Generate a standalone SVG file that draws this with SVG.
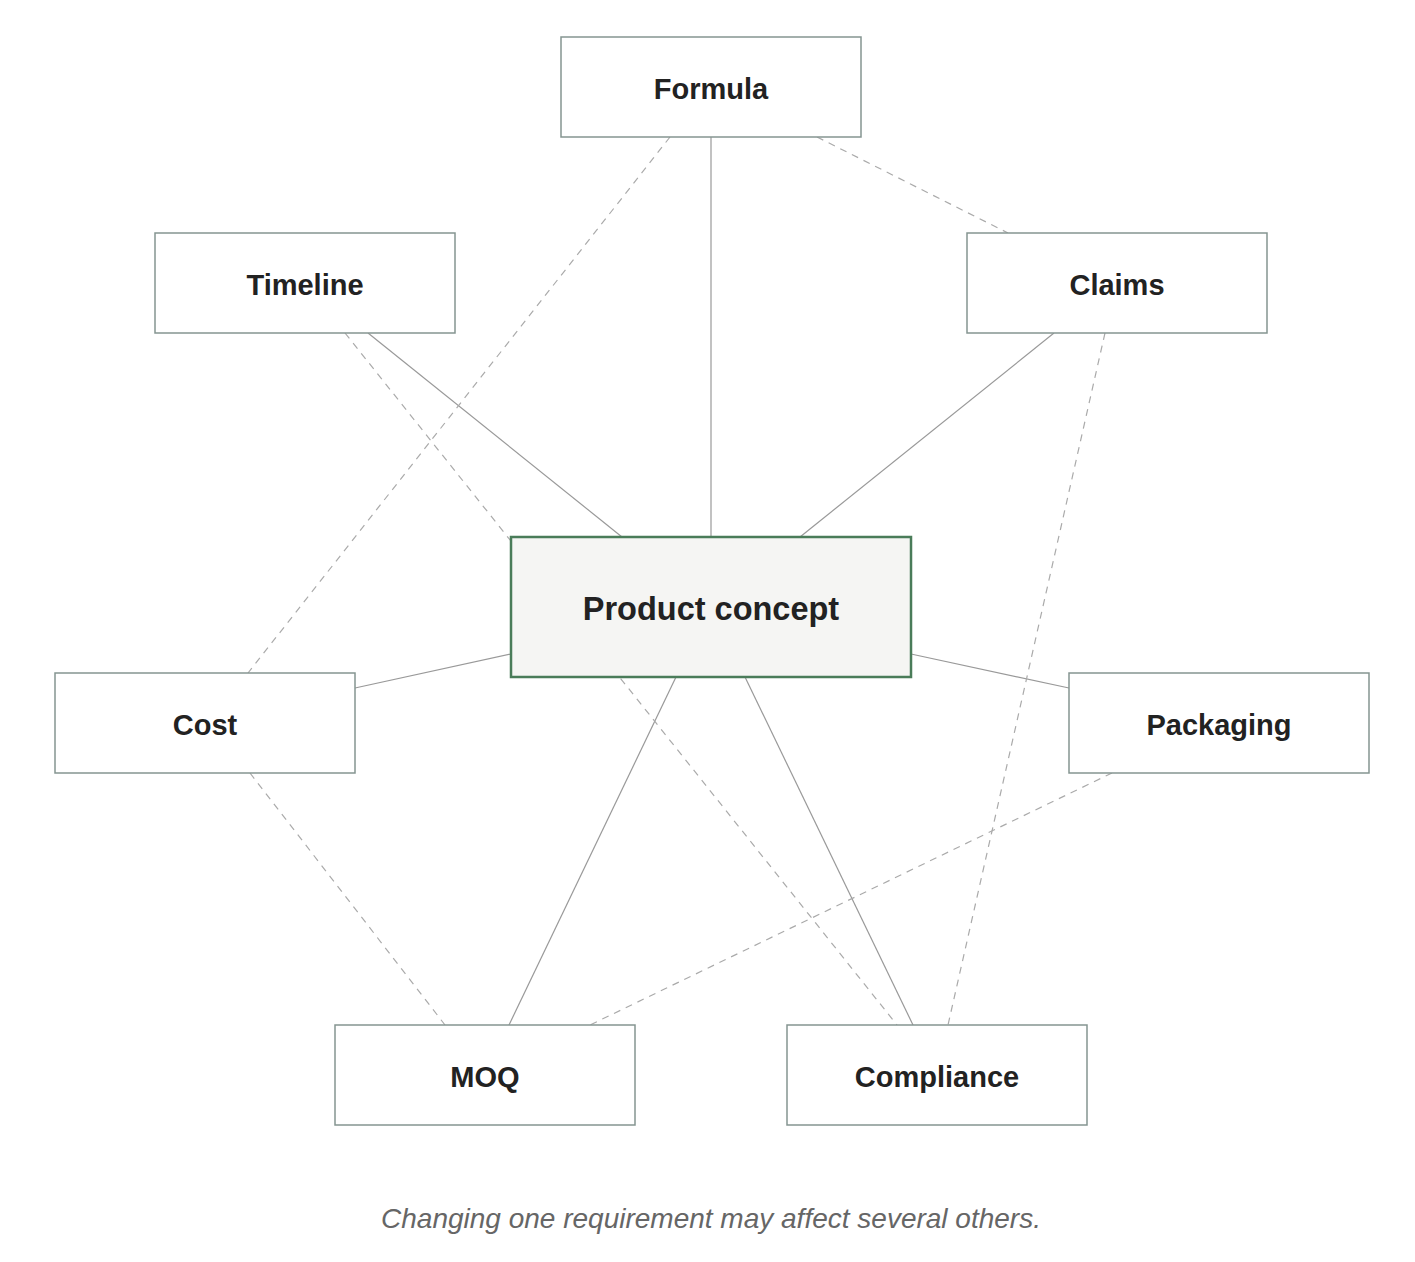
<svg xmlns="http://www.w3.org/2000/svg" width="1415" height="1262" viewBox="0 0 1415 1262">
<style>
.n rect{fill:#fff;stroke:#859591;stroke-width:1.5}
.n text{font-family:"Liberation Sans",Arial,sans-serif;font-weight:bold;font-size:29px;fill:#222;text-anchor:middle;dominant-baseline:central}
.s{stroke:#999;stroke-width:1.2;fill:none}
.d{stroke:#aaa;stroke-width:1.2;fill:none;stroke-dasharray:7 6}
</style>
<rect width="1415" height="1262" fill="#fff"/>
<g id="connectors">
<line class="s" x1="711" y1="137" x2="711" y2="537"/>
<line class="s" x1="368" y1="333" x2="622" y2="537"/>
<line class="s" x1="1054" y1="333" x2="800" y2="537"/>
<line class="s" x1="355" y1="688" x2="511" y2="654"/>
<line class="s" x1="1069" y1="688" x2="911" y2="654"/>
<line class="s" x1="509" y1="1025" x2="676" y2="677"/>
<line class="s" x1="913" y1="1025" x2="745" y2="677"/>
<line class="d" x1="670" y1="137" x2="248" y2="673"/>
<line class="d" x1="817" y1="137" x2="1008" y2="233"/>
<line class="d" x1="345" y1="333" x2="897" y2="1025"/>
<line class="d" x1="1105" y1="333" x2="948" y2="1025"/>
<line class="d" x1="1112" y1="773" x2="590" y2="1025"/>
<line class="d" x1="250" y1="773" x2="445" y2="1025"/>
</g>
<g id="formula" class="n"><rect x="561" y="37" width="300" height="100"/><text x="711" y="89">Formula</text></g>
<g id="timeline" class="n"><rect x="155" y="233" width="300" height="100"/><text x="305" y="285">Timeline</text></g>
<g id="claims" class="n"><rect x="967" y="233" width="300" height="100"/><text x="1117" y="285">Claims</text></g>
<g id="cost" class="n"><rect x="55" y="673" width="300" height="100"/><text x="205" y="725">Cost</text></g>
<g id="packaging" class="n"><rect x="1069" y="673" width="300" height="100"/><text x="1219" y="725">Packaging</text></g>
<g id="moq" class="n"><rect x="335" y="1025" width="300" height="100"/><text x="485" y="1077">MOQ</text></g>
<g id="compliance" class="n"><rect x="787" y="1025" width="300" height="100"/><text x="937" y="1077">Compliance</text></g>
<g id="concept" class="n"><rect x="511" y="537" width="400" height="140" style="fill:#f5f5f3;stroke:#4a7c59;stroke-width:2.5"/><text x="711" y="609" style="font-size:32.5px">Product concept</text></g>
<text x="711" y="1218" font-family="Liberation Sans,Arial,sans-serif" font-style="italic" font-size="28" fill="#666" text-anchor="middle" dominant-baseline="central">Changing one requirement may affect several others.</text>
</svg>
